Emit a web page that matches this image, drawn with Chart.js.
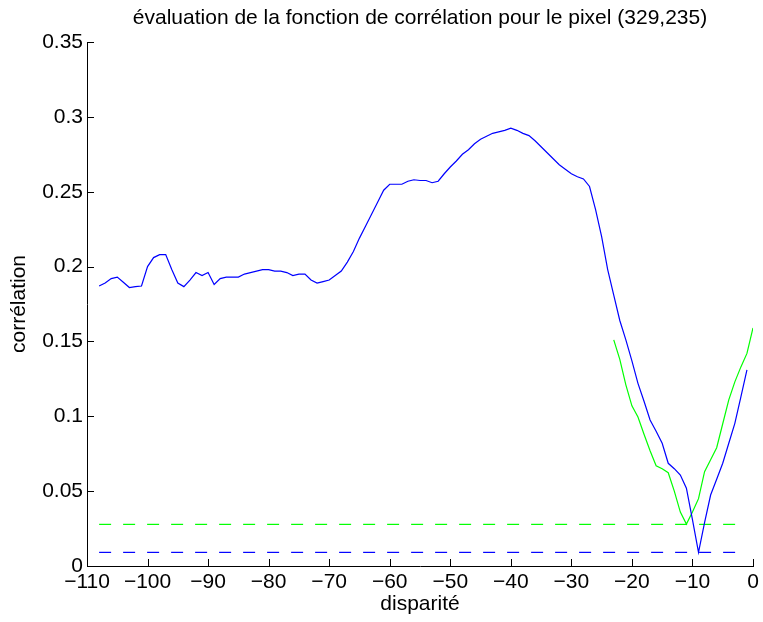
<!DOCTYPE html>
<html><head><meta charset="utf-8">
<script src="https://cdn.jsdelivr.net/npm/chart.js@4/dist/chart.umd.min.js"></script>
<style>html,body{margin:0;padding:0;background:#fff}#wrap{width:763px;height:622px}</style>
</head><body><div id="wrap"><canvas id="c" width="763" height="622"></canvas></div>
<script>
const titleText = 'évaluation de la fonction de corrélation pour le pixel (329,235)';
const xLabel = 'disparité';
const yLabel = 'corrélation';
const xTicks = [-110, -100, -90, -80, -70, -60, -50, -40, -30, -20, -10, 0];
const yTicks = [0, 0.05, 0.1, 0.15, 0.2, 0.25, 0.3, 0.35];

const blueX = [-108,-107,-106,-105,-104,-103,-102,-101,-100,-99,-98,-97,-96,-95,-94,-93,-92,-91,-90,-89,-88,-87,-86,-85,-84,-83,-82,-81,-80,-79,-78,-77,-76,-75,-74,-73,-72,-71,-70,-69,-68,-67,-66,-65,-64,-63,-62,-61,-60,-59,-58,-57,-56,-55,-54,-53,-52,-51,-50,-49,-48,-47,-46,-45,-44,-43,-42,-41,-40,-39,-38,-37,-36,-35,-34,-33,-32,-31,-30,-29,-28,-27,-26,-25,-24,-23,-22,-21,-20,-19,-18,-17,-16,-15,-14,-13,-12,-11,-10,-9,-8,-7,-6,-5,-4,-3,-2,-1];
const blueY = [0.187,0.189,0.192,0.193,0.1895,0.186,0.1866,0.187,0.200,0.206,0.208,0.208,0.198,0.189,0.1866,0.191,0.196,0.194,0.196,0.188,0.192,0.193,0.193,0.193,0.195,0.196,0.197,0.198,0.198,0.197,0.197,0.196,0.194,0.195,0.195,0.191,0.189,0.190,0.191,0.194,0.197,0.203,0.210,0.219,0.227,0.235,0.243,0.251,0.255,0.255,0.255,0.257,0.258,0.2575,0.2575,0.256,0.257,0.262,0.2665,0.2705,0.275,0.278,0.282,0.285,0.287,0.289,0.290,0.291,0.2925,0.291,0.289,0.2875,0.284,0.280,0.276,0.272,0.268,0.265,0.262,0.260,0.2585,0.2535,0.238,0.220,0.198,0.181,0.164,0.151,0.137,0.122,0.110,0.0975,0.090,0.082,0.0686,0.065,0.0608,0.052,0.031,0.0091,0.029,0.0474,0.058,0.0686,0.082,0.0953,0.113,0.131];

const greenX = [-23,-22,-21,-20,-19,-18,-17,-16,-15,-14,-13,-12,-11,-10,-9,-8,-7,-6,-5,-4,-3,-2,-1,0];
const greenY = [0.151,0.138,0.121,0.107,0.0995,0.088,0.077,0.067,0.065,0.0623,0.050,0.036,0.028,0.036,0.045,0.063,0.071,0.079,0.095,0.111,0.123,0.133,0.142,0.159];

const minRangeX = [-108, -1];
const blueMin = 0.0091;
const greenMin = 0.0278;

const FONT = {family: '"Liberation Sans", Arial, Helvetica, sans-serif', size: 21};

const inwardTicks = {
  id: 'inwardTicks',
  afterDraw(chart) {
    const ctx = chart.ctx, a = chart.chartArea;
    const xs = chart.scales.x, ys = chart.scales.y;
    ctx.save();
    ctx.strokeStyle = '#000';
    ctx.lineWidth = 1;
    ctx.beginPath();
    xs.ticks.forEach(t => {
      const p = Math.round(xs.getPixelForValue(t.value)) + 0.5;
      ctx.moveTo(p, a.bottom); ctx.lineTo(p, a.bottom - 7);
    });
    ys.ticks.forEach(t => {
      const p = Math.round(ys.getPixelForValue(t.value)) + 0.5;
      ctx.moveTo(a.left, p); ctx.lineTo(a.left + 7, p);
    });
    ctx.stroke();
    ctx.restore();
  }
};

new Chart(document.getElementById('c'), {
  type: 'line',
  data: {
    datasets: [
      {data: blueX.map((x, i) => ({x, y: blueY[i]})), borderColor: '#0000ff', borderWidth: 1.2},
      {data: greenX.map((x, i) => ({x, y: greenY[i]})), borderColor: '#00ff00', borderWidth: 1.2},
      {data: minRangeX.map(x => ({x, y: greenMin})), borderColor: '#00ff00', borderWidth: 1.2, borderDash: [12, 12]},
      {data: minRangeX.map(x => ({x, y: blueMin})), borderColor: '#0000ff', borderWidth: 1.2, borderDash: [12, 12]}
    ]
  },
  options: {
    responsive: false,
    animation: false,
    layout: {padding: {left: 0, right: 10, top: 0, bottom: 0}},
    elements: {point: {radius: 0}, line: {tension: 0, fill: false}},
    plugins: {
      legend: {display: false},
      tooltip: {enabled: false},
      title: {display: true, fullSize: false, text: titleText, color: '#000', font: {...FONT, weight: 'normal'}, padding: {top: 6, bottom: 10.8}}
    },
    scales: {
      x: {
        type: 'linear', min: -110, max: 0,
        afterFit: s => { s.height = 56; },
        afterBuildTicks: s => { s.ticks = xTicks.map(v => ({value: v})); },
        ticks: {color: '#000', font: FONT, padding: 4, maxRotation: 0, autoSkip: false,
          callback: v => String(v).replace('-', '\u2212')},
        grid: {display: false, drawTicks: false},
        border: {display: true, color: '#000', width: 1},
        title: {display: true, text: xLabel, color: '#000', font: FONT, padding: {top: 0, bottom: 5}}
      },
      y: {
        type: 'linear', min: 0, max: 0.35,
        afterFit: s => { s.width = 87; },
        afterBuildTicks: s => { s.ticks = yTicks.map(v => ({value: v})); },
        ticks: {color: '#000', font: FONT, padding: 4, autoSkip: false,
          callback: v => String(+v.toFixed(2))},
        grid: {display: false, drawTicks: false},
        border: {display: true, color: '#000', width: 1},
        title: {display: true, text: yLabel, color: '#000', font: FONT, padding: {top: 7, bottom: 0}}
      }
    }
  },
  plugins: [inwardTicks]
});
</script>
</body></html>
